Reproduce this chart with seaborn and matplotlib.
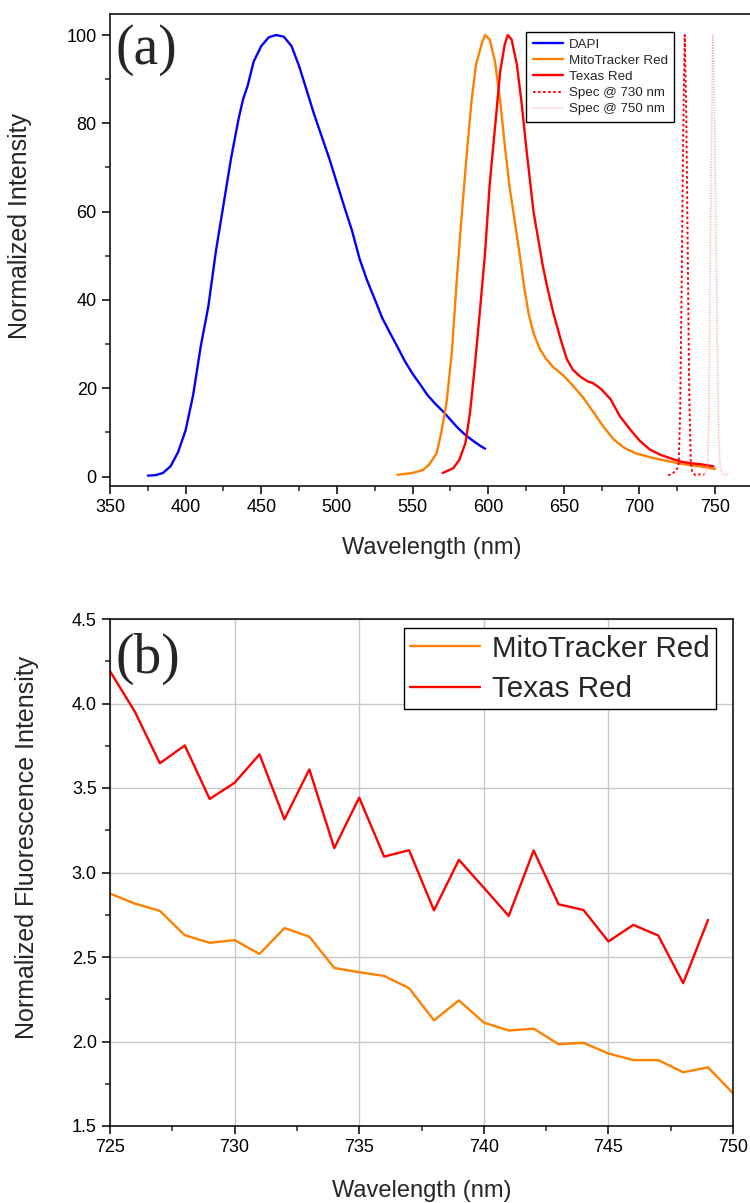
import matplotlib
matplotlib.use("Agg")
import matplotlib.pyplot as plt
from matplotlib.ticker import MultipleLocator, FormatStrFormatter
import seaborn as sns

# ---------------- data: panel (a) ----------------
dapi_wl = [375, 380, 385, 390, 395, 400, 405, 410, 415, 420, 425, 430, 435, 438, 441, 445, 450, 455, 460,
           465, 470, 475, 480, 485, 490, 495, 500, 505, 510, 515, 520, 525, 530, 535, 540, 545, 550, 555,
           560, 565, 570, 575, 580, 585, 590, 595, 598]
dapi_int = [0.2, 0.3, 0.8, 2.3, 5.5, 10.5, 18.5, 29.5, 38.5, 51.0, 61.5, 72.0, 81.0, 85.5, 88.5, 94.0,
            97.5, 99.5, 100.0, 99.6, 97.5, 93.0, 87.5, 82.0, 77.0, 72.0, 66.5, 61.0, 55.7, 49.3, 44.4, 40.2,
            35.9, 32.6, 29.4, 26.1, 23.3, 20.9, 18.4, 16.5, 14.8, 12.9, 11.0, 9.4, 8.1, 6.9, 6.3]

mito_wl = [540, 550, 557, 561, 566, 569, 572.5, 576, 579, 582, 586, 589, 592, 596, 598, 601, 604.5, 608,
           611, 614, 618, 621, 624, 627, 630, 634, 638, 643, 650, 656, 663, 670, 676, 683, 690, 698, 709,
           720, 731, 740, 750]
mito_int = [0.4, 0.8, 1.5, 2.7, 5.3, 9.9, 16.7, 28.1, 43.2, 56.9, 73.6, 85.0, 93.3, 98.3, 100.0, 99.0,
            94.1, 85.0, 75.1, 66.0, 56.9, 50.0, 42.5, 36.5, 32.5, 29.0, 26.8, 24.8, 22.8, 20.6, 17.8, 14.4,
            11.4, 8.4, 6.5, 5.2, 4.2, 3.4, 2.7, 2.3, 1.7]

texas_wl = [570, 577, 581, 585, 588, 591, 594.5, 598, 601, 604.5, 608, 611, 613, 615.5, 619, 622, 625.5,
            630, 633, 636, 639, 643, 648, 652, 656, 661, 666, 669, 672, 675, 681, 687, 694, 700.5, 707, 714,
            720, 727, 734, 740, 749]
texas_int = [0.8, 1.9, 3.8, 7.6, 14.4, 24.3, 37.2, 50.8, 66.0, 78.9, 91.8, 97.9, 100.0, 99.0, 93.3, 85.0,
             73.6, 60.0, 54.0, 48.0, 43.0, 37.2, 31.0, 26.6, 24.2, 22.6, 21.5, 21.2, 20.5, 19.7, 17.5, 13.7,
             10.6, 8.0, 6.1, 4.9, 4.2, 3.4, 3.0, 2.8, 2.3]

spec730_wl = [719, 721, 723, 725, 726, 727, 728, 729, 730, 731, 732, 733, 734, 735, 737, 740, 743]
spec730_int = [0.3, 0.5, 1.0, 1.8, 3.0, 15.0, 45.0, 78.0, 100.0, 82.0, 50.0, 18.0, 3.0, 1.0, 0.3, 0.5, 0.4]

spec750_wl = [740, 743, 745, 746, 747, 748.5, 749.5, 750.5, 751.5, 752.5, 753.5, 755, 757, 759]
spec750_int = [0.3, 0.6, 1.5, 15.0, 55.0, 100.0, 88.0, 60.0, 30.0, 8.0, 2.0, 0.5, 0.3, 0.8]

# ---------------- data: panel (b) ----------------
wl_b_mito = list(range(725, 751))
mito_b = [2.875, 2.816, 2.773, 2.629, 2.584, 2.600, 2.518, 2.671, 2.620, 2.435, 2.410, 2.388, 2.316,
          2.125, 2.243, 2.112, 2.065, 2.076, 1.984, 1.992, 1.929, 1.890, 1.890, 1.818, 1.847, 1.694]
wl_b_texas = list(range(725, 750))
texas_b = [4.191, 3.951, 3.646, 3.752, 3.435, 3.531, 3.699, 3.315, 3.610, 3.144, 3.443, 3.094, 3.132,
           2.776, 3.075, 2.910, 2.743, 3.130, 2.812, 2.778, 2.592, 2.690, 2.627, 2.345, 2.720]

# ---------------- style ----------------
sns.set_style("white")
plt.rcParams['font.family'] = ['Liberation Sans', 'DejaVu Sans']
plt.rcParams['axes.linewidth'] = 1.1

BLUE = '#0000FF'
ORANGE = '#FF8000'
RED = '#FF0000'
PINK = '#FFB0B0'

W, H = 750, 1203
fig = plt.figure(figsize=(W / 100, H / 100), dpi=100)


def px_axes(left, top, right, bottom):
    return fig.add_axes([left / W, 1 - bottom / H, (right - left) / W, (bottom - top) / H])


def style_ticks(ax):
    ax.tick_params(which='major', direction='out', length=6, width=1.1, labelsize=13,
                   left=True, bottom=True, top=False, right=False, colors='black')
    ax.tick_params(which='minor', direction='out', length=3.5, width=1.1,
                   left=True, bottom=True, top=False, right=False)
    for s in ax.spines.values():
        s.set_color('black')
        s.set_linewidth(1.1)


# ---------------- panel (a) ----------------
a_left, a_right = 110, 110 + 430 * 1.5125
axa = px_axes(a_left, 14, a_right, 486)
lw = 1.7
sns.lineplot(x=dapi_wl, y=dapi_int, ax=axa, color=BLUE, lw=lw, label='DAPI', sort=False)
sns.lineplot(x=mito_wl, y=mito_int, ax=axa, color=ORANGE, lw=lw, label='MitoTracker Red', sort=False)
sns.lineplot(x=texas_wl, y=texas_int, ax=axa, color=RED, lw=lw, label='Texas Red', sort=False)
sns.lineplot(x=spec730_wl, y=spec730_int, ax=axa, color=RED, lw=1.4, linestyle=(0, (1.3, 1.3)),
             label='Spec @ 730 nm', sort=False)
sns.lineplot(x=spec750_wl, y=spec750_int, ax=axa, color=PINK, lw=1.1, linestyle=(0, (0.8, 0.9)),
             label='Spec @ 750 nm', sort=False)

axa.set_xlim(350, 780)
axa.set_ylim(-2.15, 104.76)
axa.set_xticks([350, 400, 450, 500, 550, 600, 650, 700, 750])
axa.xaxis.set_minor_locator(MultipleLocator(25))
axa.yaxis.set_major_locator(MultipleLocator(20))
axa.yaxis.set_minor_locator(MultipleLocator(10))
style_ticks(axa)
axa.set_xlabel('Wavelength (nm)', fontsize=17)
axa.set_ylabel('Normalized Intensity', fontsize=18)
a_w = a_right - a_left
axa.xaxis.set_label_coords((431.5 - a_left) / a_w, -(537 - 486) / 472)
axa.yaxis.set_label_coords((32 - a_left) / a_w, (486 - 226.5) / 472)

lega = axa.legend(loc='upper left', bbox_to_anchor=(526 / W, 1 - 32 / H), bbox_transform=fig.transFigure,
                  fontsize=9.6, frameon=True, fancybox=False, edgecolor='black', framealpha=1,
                  handlelength=2.3, handletextpad=0.4, borderpad=0.5, labelspacing=0.28,
                  borderaxespad=0)
lega.get_frame().set_linewidth(1.0)

fig.text(116 / W, 1 - 50 / H, '(a)', fontsize=40, family='Liberation Serif', va='center', ha='left')

# ---------------- panel (b) ----------------
axb = px_axes(110, 619, 733, 1126)
axb.grid(True, which='major', color='#C8C8C8', lw=1.0)
axb.set_axisbelow(True)
sns.lineplot(x=wl_b_mito, y=mito_b, ax=axb, color=ORANGE, lw=1.7, label='MitoTracker Red', sort=False)
sns.lineplot(x=wl_b_texas, y=texas_b, ax=axb, color=RED, lw=1.7, label='Texas Red', sort=False)
axb.set_xlim(725, 750)
axb.set_ylim(1.5, 4.5)
axb.xaxis.set_major_locator(MultipleLocator(5))
axb.xaxis.set_minor_locator(MultipleLocator(2.5))
axb.yaxis.set_major_locator(MultipleLocator(0.5))
axb.yaxis.set_minor_locator(MultipleLocator(0.25))
axb.yaxis.set_major_formatter(FormatStrFormatter('%.1f'))
style_ticks(axb)
axb.set_xlabel('Wavelength (nm)', fontsize=17)
axb.set_ylabel('Normalized Fluorescence Intensity', fontsize=18)
axb.xaxis.set_label_coords((422 - 110) / 623, -(1180 - 1126) / 507)
axb.yaxis.set_label_coords((39 - 110) / 623, (1126 - 847.5) / 507)

legb = axb.legend(loc='upper right', bbox_to_anchor=(716 / W, 1 - 628 / H), bbox_transform=fig.transFigure,
                  fontsize=21.3, frameon=True, fancybox=False, edgecolor='black', framealpha=1,
                  handlelength=2.35, handletextpad=0.4, borderpad=0.22, labelspacing=0.42,
                  borderaxespad=0)
legb.get_frame().set_linewidth(1.0)

fig.text(116 / W, 1 - 659 / H, '(b)', fontsize=40, family='Liberation Serif', va='center', ha='left')

fig.savefig('out.png', dpi=100)
